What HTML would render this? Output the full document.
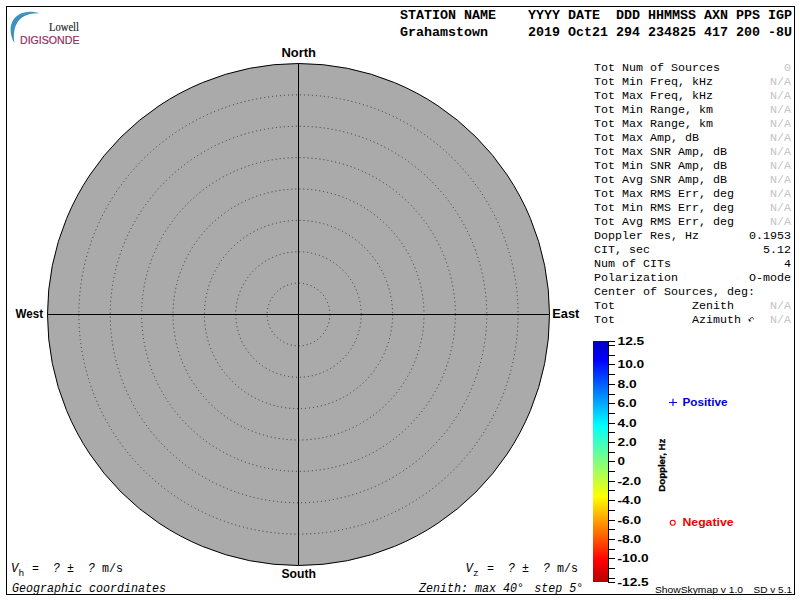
<!DOCTYPE html>
<html><head><meta charset="utf-8">
<style>
html,body{margin:0;padding:0;background:#fff;width:800px;height:600px;overflow:hidden}
svg{display:block}
text{white-space:pre}
.hd{font-family:"Liberation Mono",monospace;font-weight:bold;font-size:13.33px;fill:#000}
.tb{font-family:"Liberation Mono",monospace;font-size:11.8px;fill:#000}
.na{fill:#c4c4c4}
.dir{font-family:"Liberation Sans",sans-serif;font-weight:bold;font-size:12.7px;fill:#000}
.cb{font-family:"Liberation Sans",sans-serif;font-weight:bold;font-size:11.4px;fill:#000}
.bt{font-family:"Liberation Mono",monospace;font-size:12.3px;fill:#000}
.it{font-family:"Liberation Mono",monospace;font-style:italic;font-size:12.3px;fill:#000}
.sm{font-family:"Liberation Sans",sans-serif;font-size:9.8px;fill:#000}
</style></head><body>
<svg width="800" height="600" viewBox="0 0 800 600">
<defs>
<linearGradient id="jet" x1="0" y1="0" x2="0" y2="1">
<stop offset="0" stop-color="#0000c0"/>
<stop offset="0.08" stop-color="#0000ff"/>
<stop offset="0.35" stop-color="#00ffff"/>
<stop offset="0.5" stop-color="#80ff80"/>
<stop offset="0.645" stop-color="#ffff00"/>
<stop offset="0.91" stop-color="#ff0000"/>
<stop offset="1" stop-color="#b40000"/>
</linearGradient>
</defs>
<rect x="6.5" y="6.5" width="788" height="588" fill="none" stroke="#000" stroke-width="1"/>

<path d="M39.2,13.3 C33,11 25,11.2 19,14.5 C13,18 10.5,24 10.6,30 C10.7,35 12,39.5 14.5,43 C13.6,39 13.7,34 14.5,30 C15.6,24 19,18.8 24.5,16 C29,13.8 34,13.2 39.2,13.3 Z" fill="#3c93c0"/>
<text x="49" y="30.5" textLength="30" lengthAdjust="spacingAndGlyphs" style="font-family:'Liberation Serif',serif;font-size:11.8px;fill:#222;stroke:#222;stroke-width:0.15">Lowell</text>
<text x="20" y="43.5" textLength="59.5" lengthAdjust="spacingAndGlyphs" style="font-family:'Liberation Sans',sans-serif;font-size:11.6px;fill:#922d5e;stroke:#922d5e;stroke-width:0.2">DIGISONDE</text>
<text class="hd" x="400" y="19">STATION NAME    YYYY DATE  DDD HHMMSS AXN PPS IGP</text>
<text class="hd" x="400" y="36">Grahamstown     2019 Oct21 294 234825 417 200 -8U</text>
<circle cx="298.5" cy="314.5" r="251" fill="#aaaaaa" stroke="#000" stroke-width="1"/>
<g fill="none" stroke="#333" stroke-width="1" stroke-dasharray="1 3">
<circle cx="298.5" cy="314.5" r="31.375"/>
<circle cx="298.5" cy="314.5" r="62.750"/>
<circle cx="298.5" cy="314.5" r="94.125"/>
<circle cx="298.5" cy="314.5" r="125.500"/>
<circle cx="298.5" cy="314.5" r="156.875"/>
<circle cx="298.5" cy="314.5" r="188.250"/>
<circle cx="298.5" cy="314.5" r="219.625"/>
</g>
<line x1="298.5" y1="63.5" x2="298.5" y2="565.5" stroke="#000"/>
<line x1="47.5" y1="314.5" x2="549.5" y2="314.5" stroke="#000"/>
<text class="dir" x="281.5" y="57" textLength="34.5" lengthAdjust="spacingAndGlyphs">North</text>
<text class="dir" x="281.5" y="578" textLength="34.5" lengthAdjust="spacingAndGlyphs">South</text>
<text class="dir" x="15.5" y="318" textLength="27.5" lengthAdjust="spacingAndGlyphs">West</text>
<text class="dir" x="552.3" y="318" textLength="27" lengthAdjust="spacingAndGlyphs">East</text>
<g class="tb">
<text x="594" y="71" textLength="126" lengthAdjust="spacingAndGlyphs">Tot Num of Sources</text>
<text class="na" x="791" y="71" text-anchor="end" textLength="7" lengthAdjust="spacingAndGlyphs">0</text>
<text x="594" y="85" textLength="119" lengthAdjust="spacingAndGlyphs">Tot Min Freq, kHz</text>
<text class="na" x="791" y="85" text-anchor="end" textLength="21" lengthAdjust="spacingAndGlyphs">N/A</text>
<text x="594" y="99" textLength="119" lengthAdjust="spacingAndGlyphs">Tot Max Freq, kHz</text>
<text class="na" x="791" y="99" text-anchor="end" textLength="21" lengthAdjust="spacingAndGlyphs">N/A</text>
<text x="594" y="113" textLength="119" lengthAdjust="spacingAndGlyphs">Tot Min Range, km</text>
<text class="na" x="791" y="113" text-anchor="end" textLength="21" lengthAdjust="spacingAndGlyphs">N/A</text>
<text x="594" y="127" textLength="119" lengthAdjust="spacingAndGlyphs">Tot Max Range, km</text>
<text class="na" x="791" y="127" text-anchor="end" textLength="21" lengthAdjust="spacingAndGlyphs">N/A</text>
<text x="594" y="141" textLength="105" lengthAdjust="spacingAndGlyphs">Tot Max Amp, dB</text>
<text class="na" x="791" y="141" text-anchor="end" textLength="21" lengthAdjust="spacingAndGlyphs">N/A</text>
<text x="594" y="155" textLength="133" lengthAdjust="spacingAndGlyphs">Tot Max SNR Amp, dB</text>
<text class="na" x="791" y="155" text-anchor="end" textLength="21" lengthAdjust="spacingAndGlyphs">N/A</text>
<text x="594" y="169" textLength="133" lengthAdjust="spacingAndGlyphs">Tot Min SNR Amp, dB</text>
<text class="na" x="791" y="169" text-anchor="end" textLength="21" lengthAdjust="spacingAndGlyphs">N/A</text>
<text x="594" y="183" textLength="133" lengthAdjust="spacingAndGlyphs">Tot Avg SNR Amp, dB</text>
<text class="na" x="791" y="183" text-anchor="end" textLength="21" lengthAdjust="spacingAndGlyphs">N/A</text>
<text x="594" y="197" textLength="140" lengthAdjust="spacingAndGlyphs">Tot Max RMS Err, deg</text>
<text class="na" x="791" y="197" text-anchor="end" textLength="21" lengthAdjust="spacingAndGlyphs">N/A</text>
<text x="594" y="211" textLength="140" lengthAdjust="spacingAndGlyphs">Tot Min RMS Err, deg</text>
<text class="na" x="791" y="211" text-anchor="end" textLength="21" lengthAdjust="spacingAndGlyphs">N/A</text>
<text x="594" y="225" textLength="140" lengthAdjust="spacingAndGlyphs">Tot Avg RMS Err, deg</text>
<text class="na" x="791" y="225" text-anchor="end" textLength="21" lengthAdjust="spacingAndGlyphs">N/A</text>
<text x="594" y="239" textLength="105" lengthAdjust="spacingAndGlyphs">Doppler Res, Hz</text>
<text x="791" y="239" text-anchor="end" textLength="42" lengthAdjust="spacingAndGlyphs">0.1953</text>
<text x="594" y="253" textLength="56" lengthAdjust="spacingAndGlyphs">CIT, sec</text>
<text x="791" y="253" text-anchor="end" textLength="28" lengthAdjust="spacingAndGlyphs">5.12</text>
<text x="594" y="267" textLength="77" lengthAdjust="spacingAndGlyphs">Num of CITs</text>
<text x="791" y="267" text-anchor="end" textLength="7" lengthAdjust="spacingAndGlyphs">4</text>
<text x="594" y="281" textLength="84" lengthAdjust="spacingAndGlyphs">Polarization</text>
<text x="791" y="281" text-anchor="end" textLength="42" lengthAdjust="spacingAndGlyphs">O-mode</text>
<text x="594" y="295" textLength="161" lengthAdjust="spacingAndGlyphs">Center of Sources, deg:</text>
<text x="594" y="309" textLength="21" lengthAdjust="spacingAndGlyphs">Tot</text>
<text class="na" x="791" y="309" text-anchor="end" textLength="21" lengthAdjust="spacingAndGlyphs">N/A</text>
<text x="594" y="323" textLength="21" lengthAdjust="spacingAndGlyphs">Tot</text>
<text class="na" x="791" y="323" text-anchor="end" textLength="21" lengthAdjust="spacingAndGlyphs">N/A</text>
<text x="692" y="309" textLength="42" lengthAdjust="spacingAndGlyphs">Zenith</text><text x="692" y="323" textLength="49" lengthAdjust="spacingAndGlyphs">Azimuth</text>
</g>
<path d="M749,320.5 L751,318 C752,317 753.5,317.5 753.5,319.5" fill="none" stroke="#555" stroke-width="1.1"/>
<path d="M748.3,318.5 L751.5,321.3 L749,321.5 Z" fill="#222"/>
<rect x="593" y="341" width="15" height="241" fill="url(#jet)"/>
<line x1="608.5" y1="341" x2="608.5" y2="583" stroke="#000"/>
<g stroke="#000">
<line x1="608" y1="341.5" x2="615" y2="341.5"/>
<line x1="608" y1="345.5" x2="615" y2="345.5"/>
<line x1="608" y1="355.5" x2="615" y2="355.5"/>
<line x1="608" y1="364.5" x2="615" y2="364.5"/>
<line x1="608" y1="374.5" x2="615" y2="374.5"/>
<line x1="608" y1="384.5" x2="615" y2="384.5"/>
<line x1="608" y1="394.5" x2="615" y2="394.5"/>
<line x1="608" y1="403.5" x2="615" y2="403.5"/>
<line x1="608" y1="413.5" x2="615" y2="413.5"/>
<line x1="608" y1="423.5" x2="615" y2="423.5"/>
<line x1="608" y1="432.5" x2="615" y2="432.5"/>
<line x1="608" y1="442.5" x2="615" y2="442.5"/>
<line x1="608" y1="452.5" x2="615" y2="452.5"/>
<line x1="608" y1="461.5" x2="615" y2="461.5"/>
<line x1="608" y1="471.5" x2="615" y2="471.5"/>
<line x1="608" y1="481.5" x2="615" y2="481.5"/>
<line x1="608" y1="490.5" x2="615" y2="490.5"/>
<line x1="608" y1="500.5" x2="615" y2="500.5"/>
<line x1="608" y1="510.5" x2="615" y2="510.5"/>
<line x1="608" y1="520.5" x2="615" y2="520.5"/>
<line x1="608" y1="529.5" x2="615" y2="529.5"/>
<line x1="608" y1="539.5" x2="615" y2="539.5"/>
<line x1="608" y1="549.5" x2="615" y2="549.5"/>
<line x1="608" y1="558.5" x2="615" y2="558.5"/>
<line x1="608" y1="568.5" x2="615" y2="568.5"/>
<line x1="608" y1="578.5" x2="615" y2="578.5"/>
<line x1="608" y1="582.5" x2="615" y2="582.5"/>
</g>
<g class="cb">
<text x="617.5" y="345.1" textLength="26.7" lengthAdjust="spacingAndGlyphs">12.5</text>
<text x="617.5" y="368.1" textLength="26.7" lengthAdjust="spacingAndGlyphs">10.0</text>
<text x="617.5" y="388.1" textLength="19.1" lengthAdjust="spacingAndGlyphs">8.0</text>
<text x="617.5" y="407.1" textLength="19.1" lengthAdjust="spacingAndGlyphs">6.0</text>
<text x="617.5" y="427.1" textLength="19.1" lengthAdjust="spacingAndGlyphs">4.0</text>
<text x="617.5" y="446.1" textLength="19.1" lengthAdjust="spacingAndGlyphs">2.0</text>
<text x="617.5" y="465.1" textLength="7.5" lengthAdjust="spacingAndGlyphs">0</text>
<text x="617.5" y="485.1" textLength="23.6" lengthAdjust="spacingAndGlyphs">-2.0</text>
<text x="617.5" y="504.1" textLength="23.6" lengthAdjust="spacingAndGlyphs">-4.0</text>
<text x="617.5" y="524.1" textLength="23.6" lengthAdjust="spacingAndGlyphs">-6.0</text>
<text x="617.5" y="543.1" textLength="23.6" lengthAdjust="spacingAndGlyphs">-8.0</text>
<text x="617.5" y="562.1" textLength="31.1" lengthAdjust="spacingAndGlyphs">-10.0</text>
<text x="617.5" y="586.1" textLength="31.1" lengthAdjust="spacingAndGlyphs">-12.5</text>
</g>
<path d="M669,402.5 H677 M673,398.8 V406" stroke="#0000dd" stroke-width="1.1"/>
<text x="682.5" y="406" textLength="45" lengthAdjust="spacingAndGlyphs" style="font-family:'Liberation Sans',sans-serif;font-weight:bold;font-size:10.8px;fill:#0000dd">Positive</text>
<circle cx="672.75" cy="522.75" r="2.5" fill="none" stroke="#ee0000" stroke-width="1.1"/>
<text x="682.5" y="526" textLength="51" lengthAdjust="spacingAndGlyphs" style="font-family:'Liberation Sans',sans-serif;font-weight:bold;font-size:10.8px;fill:#ee0000">Negative</text>
<text transform="translate(665.2,491.7) rotate(-90)" textLength="53" lengthAdjust="spacingAndGlyphs" style="font-family:'Liberation Sans',sans-serif;font-weight:bold;font-size:9.4px;fill:#000;stroke:#000;stroke-width:0.3">Doppler, Hz</text>
<text class="it" x="11" y="572">V</text>
<text class="bt" x="18.5" y="575.5" style="font-size:9.5px">h</text>
<text class="bt" x="32" y="572" textLength="7" lengthAdjust="spacingAndGlyphs">=</text><text class="it" x="53" y="572" textLength="7" lengthAdjust="spacingAndGlyphs">?</text><text class="bt" x="67" y="572" textLength="7" lengthAdjust="spacingAndGlyphs">±</text><text class="it" x="88" y="572" textLength="7" lengthAdjust="spacingAndGlyphs">?</text><text class="bt" x="102" y="572" textLength="21" lengthAdjust="spacingAndGlyphs">m/s</text>
<text class="it" x="465.5" y="572">V</text>
<text class="bt" x="473" y="575.5" style="font-size:9.5px">z</text>
<text class="bt" x="487" y="572" textLength="7" lengthAdjust="spacingAndGlyphs">=</text><text class="it" x="508" y="572" textLength="7" lengthAdjust="spacingAndGlyphs">?</text><text class="bt" x="522" y="572" textLength="7" lengthAdjust="spacingAndGlyphs">±</text><text class="it" x="543" y="572" textLength="7" lengthAdjust="spacingAndGlyphs">?</text><text class="bt" x="557" y="572" textLength="21" lengthAdjust="spacingAndGlyphs">m/s</text>
<text class="it" x="12" y="592" textLength="154" lengthAdjust="spacingAndGlyphs">Geographic coordinates</text>
<text class="it" x="419" y="592" textLength="105" lengthAdjust="spacingAndGlyphs">Zenith: max 40°</text>
<text class="it" x="534.2" y="592" textLength="49" lengthAdjust="spacingAndGlyphs">step 5°</text>
<text class="sm" x="655" y="592.6" textLength="88" lengthAdjust="spacingAndGlyphs">ShowSkymap v 1.0</text>
<text class="sm" x="753.6" y="592.6" textLength="38.4" lengthAdjust="spacingAndGlyphs">SD v 5.1</text>
</svg>
</body></html>
